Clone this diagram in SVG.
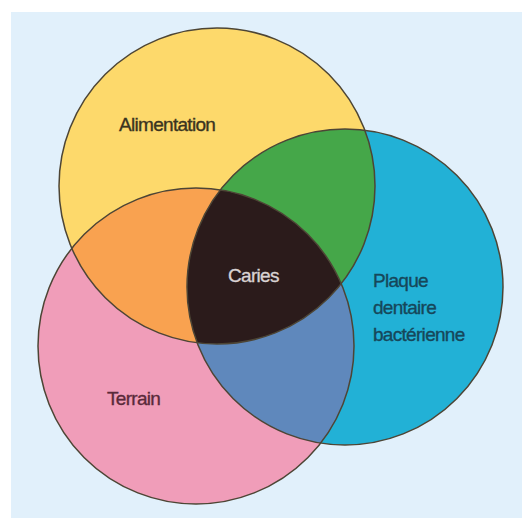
<svg xmlns="http://www.w3.org/2000/svg" width="522" height="518" viewBox="0 0 522 518">
<defs>
<style>
.lbl{font-family:"Liberation Sans",Arial,sans-serif;font-size:19px;letter-spacing:-0.7px;stroke-width:0.35px}
.ring{fill:none;stroke:#4d4535;stroke-width:1.5}
</style>
<clipPath id="cY"><circle cx="217" cy="186" r="158"/></clipPath>
<clipPath id="cB"><circle cx="345" cy="287" r="158"/></clipPath>
<clipPath id="cP"><circle cx="196" cy="346" r="158"/></clipPath>
</defs>
<rect x="0" y="0" width="522" height="518" fill="#ffffff"/>
<rect x="11" y="12" width="511" height="506" fill="#e1f0fb"/>
<g id="alimentation">
<circle cx="217" cy="186" r="158" fill="#fdd96b"/>
</g>
<g id="plaque">
<circle cx="345" cy="287" r="158" fill="#22b1d6"/>
</g>
<g id="terrain">
<circle cx="196" cy="346" r="158" fill="#f09db9"/>
</g>
<g id="overlaps">
<g clip-path="url(#cY)"><circle cx="345" cy="287" r="158" fill="#45a749"/></g>
<g clip-path="url(#cY)"><circle cx="196" cy="346" r="158" fill="#f9a250"/></g>
<g clip-path="url(#cB)"><circle cx="196" cy="346" r="158" fill="#5f88bc"/></g>
<g clip-path="url(#cB)"><g clip-path="url(#cY)"><circle cx="196" cy="346" r="158" fill="#2b1b1b"/></g></g>
</g>
<g id="outlines">
<circle class="ring" cx="217" cy="186" r="158"/>
<circle class="ring" cx="345" cy="287" r="158"/>
<circle class="ring" cx="196" cy="346" r="158"/>
</g>
<g id="labels">
<text class="lbl" x="119" y="131" fill="#3a3420" stroke="#3a3420">Alimentation</text>
<text class="lbl" x="228" y="282" fill="#d9d2d2" stroke="#d9d2d2">Caries</text>
<text class="lbl" x="373" y="287" fill="#16475a" stroke="#16475a">Plaque</text>
<text class="lbl" x="373" y="314" fill="#16475a" stroke="#16475a">dentaire</text>
<text class="lbl" x="373" y="341" fill="#16475a" stroke="#16475a">bactérienne</text>
<text class="lbl" x="107" y="405" fill="#5a2a3a" stroke="#5a2a3a">Terrain</text>
</g>
</svg>
